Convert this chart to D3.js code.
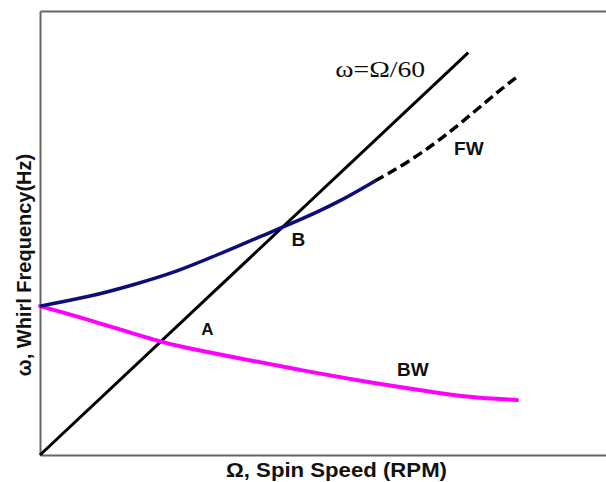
<!DOCTYPE html>
<html><head><meta charset="utf-8">
<script src="https://cdn.jsdelivr.net/npm/d3@7"></script>
<style>body{margin:0;background:#fff}svg{display:block}</style>
</head><body><svg id="c" width="606" height="482"></svg>
<script>
// Campbell diagram data (spin speed RPM, whirl frequency Hz)
const syncRPM = [0, 4540];                       // ω = Ω/60 line
const fwRPM = [0, 530, 986, 1452, 1876, 2332, 2756, 3148, 3551];
const fwHz  = [28.0, 29.77, 31.97, 34.47, 37.61, 41.05, 44.2, 47.39, 51.53];
const fwExtRPM = [3551, 3890, 4240, 4590, 4876, 5056];
const fwExtHz  = [51.53, 54.91, 59.24, 64.32, 68.64, 71.09];
const bwRPM = [0, 530, 1272, 1558, 2046, 2756, 3466, 4166, 4527, 5056];
const bwHz  = [28.0, 25.39, 21.25, 20.12, 18.43, 15.98, 13.73, 11.85, 10.91, 10.34];
const labels = [
  {text: "ω=Ω/60", rpm: 3130, hz: 71.1},
  {text: "FW", rpm: 4390, hz: 56.4},
  {text: "B", rpm: 2665, hz: 39.3},
  {text: "A", rpm: 1710, hz: 22.5},
  {text: "BW", rpm: 3785, hz: 14.8}
];

const svg = d3.select("#c");
const x = d3.scaleLinear().domain([0, 6000]).range([40, 606]);
const y = d3.scaleLinear().domain([0, 83.5]).range([455, 11]);

// frame via axes without ticks
const frame = (g) => g.call(s => s.selectAll(".domain").attr("stroke", "#666").attr("stroke-width", 2));
svg.append("g").attr("transform", "translate(0,455)")
  .call(d3.axisBottom(x).tickValues([]).tickSizeOuter(0)).call(frame);
svg.append("g").attr("transform", "translate(0,11)")
  .call(d3.axisTop(x).tickValues([]).tickSizeOuter(0)).call(frame);
svg.append("g").attr("transform", "translate(40,0)")
  .call(d3.axisLeft(y).tickValues([]).tickSizeOuter(0)).call(frame);

const line = d3.line().x(d => x(d[0])).y(d => y(d[1])).curve(d3.curveBasis);
const zip = (a, b) => a.map((v, i) => [v, b[i]]);

svg.append("path").datum(syncRPM.map(r => [r, r / 60]))
  .attr("d", d3.line().x(d => x(d[0])).y(d => y(d[1])))
  .attr("fill", "none").attr("stroke", "#000").attr("stroke-width", 3);
svg.append("path").datum(zip(bwRPM, bwHz)).attr("d", line)
  .attr("fill", "none").attr("stroke", "#ff00ff").attr("stroke-width", 4).attr("stroke-linecap", "round");
svg.append("path").datum(zip(fwRPM, fwHz)).attr("d", line)
  .attr("fill", "none").attr("stroke", "#0c0c7a").attr("stroke-width", 3.5);
svg.append("path").datum(zip(fwExtRPM, fwExtHz)).attr("d", line)
  .attr("fill", "none").attr("stroke", "#000").attr("stroke-width", 3.5)
  .attr("stroke-dasharray", "10,5");

svg.selectAll("text.lab").data(labels).join("text").attr("class", "lab")
  .attr("x", d => x(d.rpm)).attr("y", d => y(d.hz))
  .attr("font-family", d => d.text.startsWith("ω") ? "Liberation Serif" : "Liberation Sans")
  .attr("font-weight", d => d.text.startsWith("ω") ? "normal" : "bold")
  .attr("font-size", d => d.text.startsWith("ω") ? 23 : (d.text === "A" ? 17 : 19))
  .attr("fill", "#111")
  .each(function(d){ if (d.text.startsWith("ω")) d3.select(this).attr("textLength", 90).attr("lengthAdjust", "spacingAndGlyphs"); })
  .text(d => d.text);

svg.append("text").attr("x", 226).attr("y", 477)
  .attr("textLength", 221).attr("lengthAdjust", "spacingAndGlyphs")
  .attr("font-family", "Liberation Sans").attr("font-weight", "bold").attr("font-size", 20)
  .attr("fill", "#111").text("Ω, Spin Speed (RPM)");
svg.append("text").attr("transform", "translate(31,265) rotate(-90)").attr("text-anchor", "middle")
  .attr("font-family", "Liberation Sans").attr("font-weight", "bold").attr("font-size", 20)
  .attr("fill", "#111").text("ω, Whirl Frequency(Hz)");
</script></body></html>
